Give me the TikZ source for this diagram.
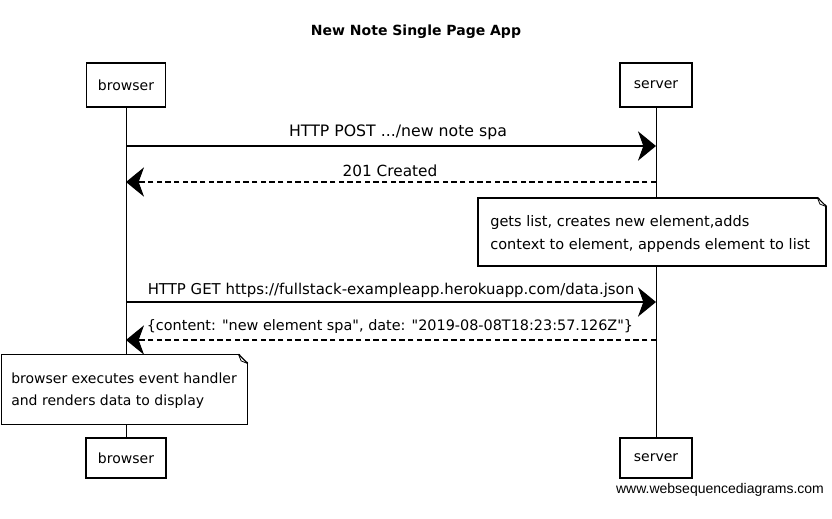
\documentclass[tikz,border=0pt]{standalone}
\usepackage{fontspec}
\setmainfont{DejaVu Sans}
\newfontfamily\plainfont{DejaVu Sans}
\newfontfamily\footfont{Liberation Sans}
\usetikzlibrary{arrows.meta}
\begin{document}
\begin{tikzpicture}[x=0.75pt,y=-0.75pt,
  actor/.style={draw, line width=0.9pt, fill=white, inner sep=0pt, font=\fontsize{10.5}{12}\selectfont},
  life/.style={line width=0.6pt},
  msg/.style={line width=0.9pt, -{Stealth[length=13.5pt,width=22pt,inset=4pt]}},
  reply/.style={msg, dash pattern=on 4pt off 2.5pt},
  lbl/.style={inner sep=0pt},
  notebox/.style={draw, line width=0.9pt, fill=white, inner sep=0pt},
  notetext/.style={inner sep=0pt, anchor=base west, font=\fontsize{10.9}{13}\selectfont}
]
\useasboundingbox (0,0) rectangle (832,518);

\node[inner sep=0pt, font=\bfseries\fontsize{10.5}{12}\selectfont] (title) at (416,32) {New Note Single Page App};

\node[actor, minimum width=59pt, minimum height=33pt] (b1) at (126,85) {browser};
\node[actor, minimum width=54pt, minimum height=33pt] (s1) at (656,85) {server};
\node[actor, minimum width=60pt, minimum height=30pt] (b2) at (126,458) {browser};
\node[actor, minimum width=54pt, minimum height=30pt] (s2) at (656,458) {server};

\draw[life] (b1.south) -- (b2.north);
\draw[life] (s1.south) -- (s2.north);

% messages
\coordinate (m1b) at (b1 |- 0,146);
\coordinate (m1s) at (s1 |- 0,146);
\draw[msg] (m1b) -- (m1s);
\node[lbl, font=\fontsize{11.8}{13}\selectfont] (l1) at (398,132) {HTTP POST .../new note spa};

\coordinate (m2b) at (b1 |- 0,182);
\coordinate (m2s) at (s1 |- 0,182);
\draw[reply] (m2s) -- (m2b);
\node[lbl, font=\fontsize{11.5}{13}\selectfont] (l2) at (390,171) {201 Created};

\node[notebox, minimum width=261pt, minimum height=51pt] (n1) at (652,232) {};
\node[notetext] (n1a) at (490,226) {gets list, creates new element,adds};
\node[notetext] (n1b) at (490,249) {context to element, appends element to list};

\coordinate (m3b) at (b1 |- 0,302);
\coordinate (m3s) at (s1 |- 0,302);
\draw[msg] (m3b) -- (m3s);
\node[lbl, font=\fontsize{11.2}{13}\selectfont] (l3) at (391,290) {HTTP GET https://fullstack-exampleapp.herokuapp.com/data.json};

\coordinate (m4b) at (b1 |- 0,340);
\coordinate (m4s) at (s1 |- 0,340);
\draw[reply] (m4s) -- (m4b);
\node[lbl, font=\plainfont\fontsize{10.8}{13}\selectfont] (l4) at (390,327) {\{content: "new element spa", date: "2019-08-08T18:23:57.126Z"\}};

\node[notebox, minimum width=184pt, minimum height=52pt] (n2) at (124.5,389.5) {};
\node[notetext, font=\fontsize{10.5}{13}\selectfont] (n2a) at (11,383) {browser executes event handler};
\node[notetext, font=\fontsize{10.5}{13}\selectfont] (n2b) at (11,405) {and renders data to display};

% dog-ears
\foreach \n in {n1,n2}{
  \fill[white] ([xshift=-7pt,yshift=1pt]\n.north east) -- ([xshift=1pt,yshift=1pt]\n.north east) -- ([xshift=1pt,yshift=-7pt]\n.north east) -- cycle;
  \draw[line width=0.9pt, line join=round] ([xshift=-7pt]\n.north east) -- ([yshift=-7pt]\n.north east);
  \draw[line width=0.6pt] ([xshift=-7pt]\n.north east) -- ([xshift=-5pt,yshift=-5pt]\n.north east) -- ([yshift=-7pt]\n.north east);
}

\node[inner sep=0pt, font=\footfont\fontsize{10.5}{12}\selectfont] (foot) at (720,490) {www.websequencediagrams.com};
\end{tikzpicture}
\end{document}
